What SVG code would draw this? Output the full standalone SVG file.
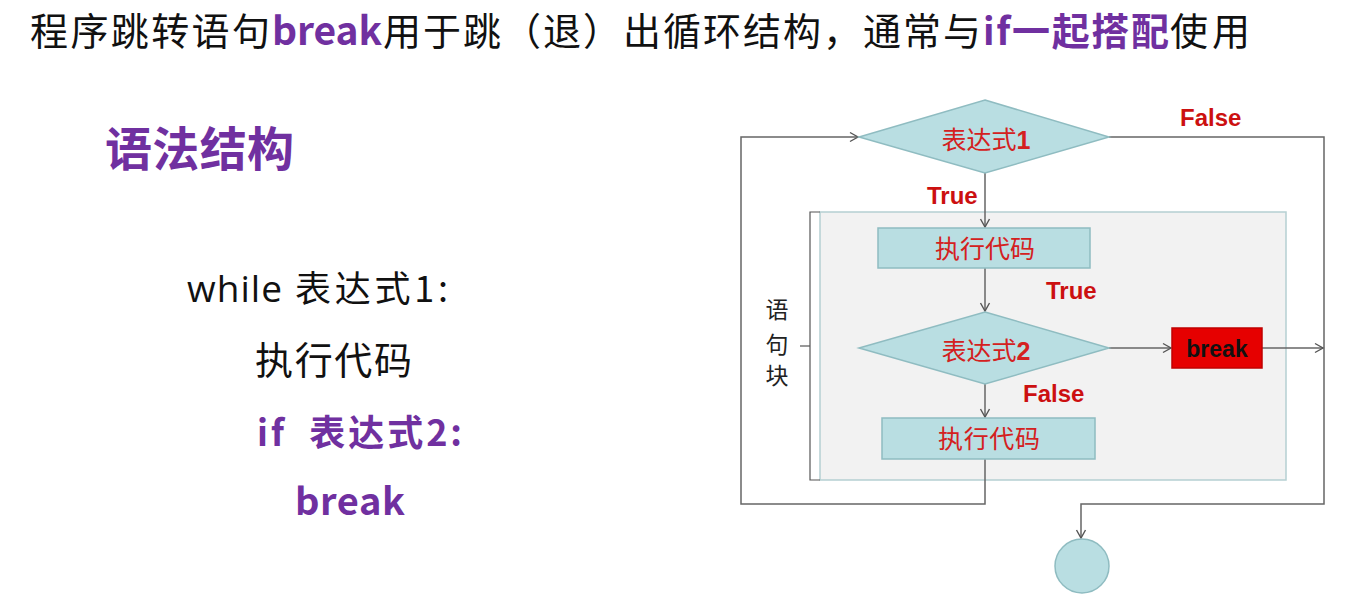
<svg xmlns="http://www.w3.org/2000/svg" width="1372" height="601" viewBox="0 0 1372 601">
<style>
.cjk{font-family:"Noto Sans CJK SC","Noto Sans",sans-serif;}
.blk{fill:#111;}
.pur{fill:#7030a0;font-weight:bold;}
.shape{fill:#b9dee2;stroke:#8fbcc1;stroke-width:1.5;}
.lbl{font-family:"Noto Sans CJK SC",sans-serif;font-size:25px;fill:#d42020;text-anchor:middle;}
.tf{font-family:"Liberation Sans",Arial,sans-serif;font-weight:bold;font-size:24px;fill:#cc1010;}
.ln{fill:none;stroke:#666;stroke-width:1.5;}
</style>
<defs>
<marker id="arr" markerUnits="userSpaceOnUse" markerWidth="12" markerHeight="12" refX="10" refY="6" orient="auto">
<path d="M2,1.5 L10,6 L2,10.5" fill="none" stroke="#555" stroke-width="1.4"/>
</marker>
</defs>
<rect width="1372" height="601" fill="#ffffff"/>

<g id="title" class="cjk">
<text x="30" y="45" font-size="38" class="blk" textLength="240">程序跳转语句</text>
<text x="272" y="45" font-size="39" class="pur" textLength="110">break</text>
<text x="383" y="45" font-size="38" class="blk" textLength="598">用于跳（退）出循环结构，通常与</text>
<text x="983" y="45" font-size="38" class="pur" textLength="186">if一起搭配</text>
<text x="1170" y="45" font-size="38" class="blk" textLength="80">使用</text>
</g>

<g id="syntax" class="cjk">
<text x="105" y="166" font-size="47" class="pur" textLength="189">语法结构</text>
<text x="187" y="302" font-size="37" class="blk" font-family="Open Sans,sans-serif" textLength="95">while</text>
<text x="295" y="302" font-size="36" class="blk" textLength="153">表达式1:</text>
<text x="255" y="374" font-size="38" class="blk" textLength="157">执行代码</text>
<text x="257" y="446" font-size="36" class="pur" textLength="205" xml:space="preserve">if  表达式2:</text>
<text x="295" y="515" font-size="38" class="pur" textLength="110">break</text>
</g>

<g id="block">
<rect x="820" y="212" width="466" height="268" fill="#f2f2f2" stroke="#b5cfd2" stroke-width="1.5"/>
<path d="M820,212 H810 V480 H820" fill="none" stroke="#555" stroke-width="1.2"/>
<path d="M800,346 H810" fill="none" stroke="#555" stroke-width="1.2"/>
<text class="cjk" x="777" y="318" font-size="23" fill="#222" text-anchor="middle">语</text>
<text class="cjk" x="777" y="353" font-size="23" fill="#222" text-anchor="middle">句</text>
<text class="cjk" x="777" y="384" font-size="23" fill="#222" text-anchor="middle">块</text>
</g>

<g id="connectors">
<path class="ln" d="M985,459 V504 H741 V137 H858" marker-end="url(#arr)"/>
<path class="ln" d="M1109,137 H1324 V504 H1081 V538" marker-end="url(#arr)"/>
<path class="ln" d="M985,173 V227" marker-end="url(#arr)"/>
<path class="ln" d="M985,268 V311" marker-end="url(#arr)"/>
<path class="ln" d="M1109,348 H1171" marker-end="url(#arr)"/>
<path class="ln" d="M1262,348 H1323" marker-end="url(#arr)"/>
<path class="ln" d="M985,384 V417" marker-end="url(#arr)"/>
</g>

<g id="cond1">
<polygon class="shape" points="985,100 1109,137 985,173 859,137"/>
<text class="lbl" x="986" y="149">表达式<tspan font-weight="bold" font-family="Liberation Sans,Arial,sans-serif">1</tspan></text>
</g>
<g id="exec1">
<rect class="shape" x="878" y="228" width="212" height="40"/>
<text class="lbl" x="985" y="258" textLength="100">执行代码</text>
</g>
<g id="cond2">
<polygon class="shape" points="985,312 1109,348 985,384 859,348"/>
<text class="lbl" x="986" y="360">表达式<tspan font-weight="bold" font-family="Liberation Sans,Arial,sans-serif">2</tspan></text>
</g>
<g id="breakbox">
<rect x="1172" y="328" width="90" height="40" fill="#e60000" stroke="#c00000" stroke-width="1.5"/>
<text x="1217" y="357" font-family="Liberation Sans,Arial,sans-serif" font-weight="bold" font-size="23" fill="#111" text-anchor="middle">break</text>
</g>
<g id="exec2">
<rect class="shape" x="882" y="418" width="213" height="41"/>
<text class="lbl" x="989" y="448" textLength="102">执行代码</text>
</g>
<g id="end">
<circle class="shape" cx="1082" cy="566" r="27"/>
</g>

<g id="labels">
<text class="tf" x="1180" y="126">False</text>
<text class="tf" x="927" y="204">True</text>
<text class="tf" x="1046" y="299">True</text>
<text class="tf" x="1023" y="402">False</text>
</g>
</svg>
